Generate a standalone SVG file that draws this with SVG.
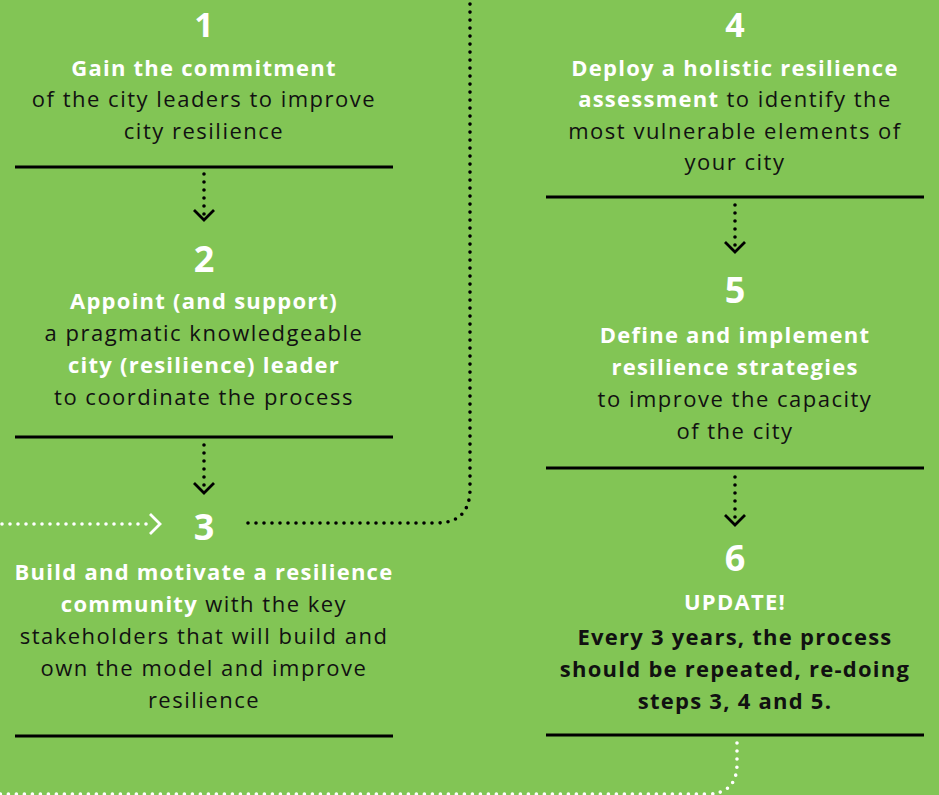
<svg xmlns="http://www.w3.org/2000/svg" width="939" height="795" viewBox="0 0 939 795">
<style>
.num{font-family:"Open Sans","Liberation Sans",sans-serif;font-weight:700;font-size:36px;fill:#fff;text-anchor:middle}
.t{font-family:"Open Sans","Liberation Sans",sans-serif;font-size:22px;letter-spacing:1.5px;fill:#111;text-anchor:middle}
.b{font-weight:700;letter-spacing:1.25px}
.w{fill:#fff}
.sep{stroke:#000;stroke-width:3}
.dot{fill:none;stroke:#000;stroke-width:3.6;stroke-linecap:round;stroke-dasharray:0 8}
.dotw{fill:none;stroke:#fff;stroke-width:3.6;stroke-linecap:round;stroke-dasharray:0 8}
.chev{fill:none;stroke:#000;stroke-width:2.8}
.chevw{fill:none;stroke:#fff;stroke-width:2.8}
</style>
<rect width="939" height="795" fill="#82C555"/>
<g id="connectors">
<path class="dot" d="M204 174V218"/><path class="chev" d="M194 210L204 220L214 210"/>
<path class="dot" d="M204 445V489"/><path class="chev" d="M194 483L204 493L214 483"/>
<path class="dot" d="M735 205V246"/><path class="chev" d="M725 242L735 252L745 242"/>
<path class="dot" d="M735 477V519"/><path class="chev" d="M725 515L735 525L745 515"/>
<path class="dotw" d="M2 524H148"/><path class="chevw" d="M150 514L160 524L150 534"/>
<path class="dot" d="M248 523H436Q470 523 470 489V0"/>
<path class="dotw" d="M737 743V764Q737 794 707 794H0"/>
</g>
<g id="step1">
<text class="num" x="204" y="37" style="font-size:34px">1</text>
<text class="t b w" x="204" y="76">Gain the commitment</text>
<text class="t" x="204" y="107">of the city leaders to improve</text>
<text class="t" x="204" y="139">city resilience</text>
<line class="sep" x1="15" y1="167" x2="393" y2="167"/>
</g>
<g id="step2">
<text class="num" x="204" y="272">2</text>
<text class="t b w" x="204" y="309">Appoint (and support)</text>
<text class="t" x="204" y="341">a pragmatic knowledgeable</text>
<text class="t b w" x="204" y="373">city (resilience) leader</text>
<text class="t" x="204" y="405">to coordinate the process</text>
<line class="sep" x1="15" y1="437" x2="393" y2="437"/>
</g>
<g id="step3">
<text class="num" x="204" y="540">3</text>
<text class="t b w" x="204" y="580">Build and motivate a resilience</text>
<text class="t" x="204" y="612"><tspan class="b w">community</tspan> with the key</text>
<text class="t" x="204" y="644">stakeholders that will build and</text>
<text class="t" x="204" y="676">own the model and improve</text>
<text class="t" x="204" y="708">resilience</text>
<line class="sep" x1="15" y1="736" x2="393" y2="736"/>
</g>
<g id="step4">
<text class="num" x="735" y="37" style="font-size:34px">4</text>
<text class="t b w" x="735" y="76">Deploy a holistic resilience</text>
<text class="t" x="735" y="107"><tspan class="b w">assessment</tspan> to identify the</text>
<text class="t" x="735" y="139">most vulnerable elements of</text>
<text class="t" x="735" y="170">your city</text>
<line class="sep" x1="546" y1="197" x2="924" y2="197"/>
</g>
<g id="step5">
<text class="num" x="735" y="303">5</text>
<text class="t b w" x="735" y="343">Define and implement</text>
<text class="t b w" x="735" y="375">resilience strategies</text>
<text class="t" x="735" y="407">to improve the capacity</text>
<text class="t" x="735" y="439">of the city</text>
<line class="sep" x1="546" y1="468" x2="924" y2="468"/>
</g>
<g id="step6">
<text class="num" x="735" y="571">6</text>
<text class="t b w" x="735" y="610">UPDATE!</text>
<text class="t b" x="735" y="645">Every 3 years, the process</text>
<text class="t b" x="735" y="677">should be repeated, re-doing</text>
<text class="t b" x="735" y="709">steps 3, 4 and 5.</text>
<line class="sep" x1="546" y1="735" x2="924" y2="735"/>
</g>
</svg>
